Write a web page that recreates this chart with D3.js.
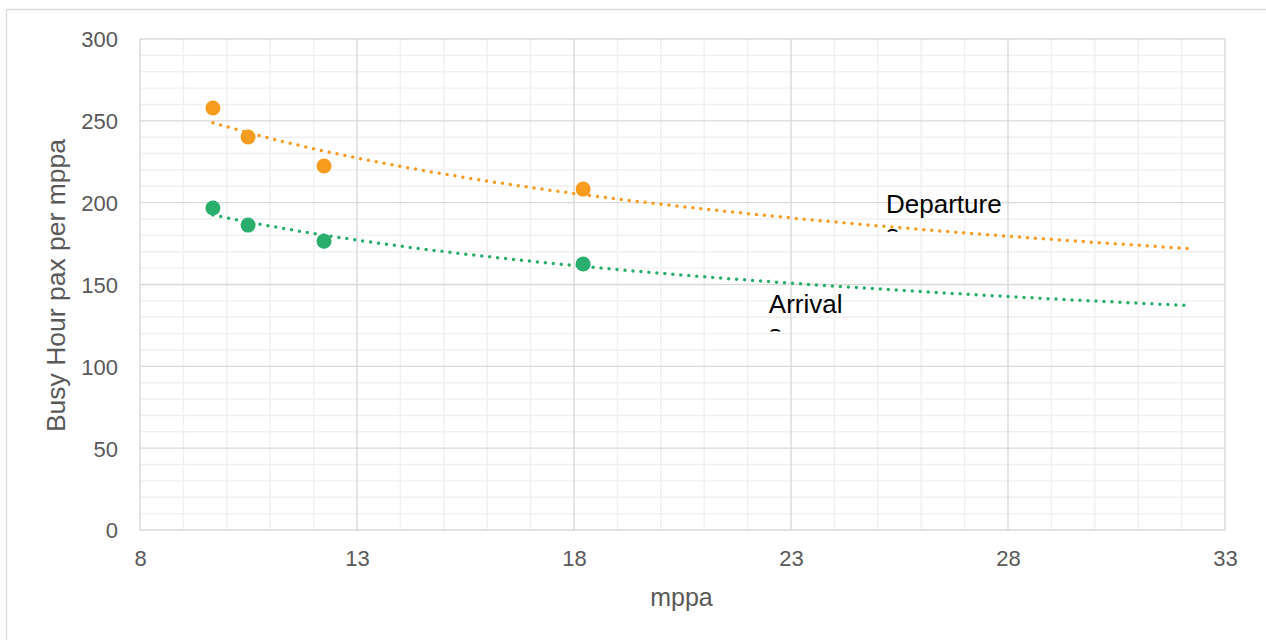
<!DOCTYPE html>
<html>
<head>
<meta charset="utf-8">
<script src="https://cdn.jsdelivr.net/npm/d3@7"></script>
<style>
  body { margin: 0; background: #fff; }
  text { font-family: "Liberation Sans", Arial, sans-serif; }
</style>
</head>
<body>
<div id="chart"></div>
<script>
// data
const mppa = [9.68, 10.49, 12.24, 18.21];
const departure = [257.8, 240.1, 222.4, 208.3];
const arrival = [196.7, 186.3, 176.5, 162.5];
const xTicks = [8, 13, 18, 23, 28, 33];
const yTicks = [0, 50, 100, 150, 200, 250, 300];
const seriesNames = ["Departure", "Arrival"];
const labelX = [25.19, 22.49];
const labelY = [193.6, 132.6];
const trendEnd = 32.2;

const colors = ["#F89C1F", "#29AE6E"];

const margin = {top: 39, right: 41, bottom: 110, left: 140},
    width = 1266 - margin.left - margin.right,
    height = 640 - margin.top - margin.bottom;

const root = d3.select("#chart")
    .append("svg")
    .attr("width", 1266)
    .attr("height", 640);

// chart outer border
root.append("rect")
    .attr("x", 6.5).attr("y", 9.5)
    .attr("width", 1300).attr("height", 700)
    .attr("fill", "none")
    .attr("stroke", "#d9d9d9")
    .attr("stroke-width", 1.3);

const svg = root.append("g")
    .attr("transform", `translate(${margin.left},${margin.top})`);

const x = d3.scaleLinear().domain([8, 33]).range([0, width]);
const y = d3.scaleLinear().domain([0, 300]).range([height, 0]);

// minor gridlines
svg.append("g")
    .selectAll("line")
    .data(d3.range(9, 33, 1).filter(v => (v - 8) % 5 !== 0))
    .join("line")
    .attr("x1", d => x(d)).attr("x2", d => x(d))
    .attr("y1", 0).attr("y2", height)
    .attr("stroke", "#f0f0f0").attr("stroke-width", 1.4);
svg.append("g")
    .selectAll("line")
    .data(d3.range(10, 300, 10).filter(v => v % 50 !== 0))
    .join("line")
    .attr("x1", 0).attr("x2", width)
    .attr("y1", d => y(d)).attr("y2", d => y(d))
    .attr("stroke", "#f0f0f0").attr("stroke-width", 1.4);

// major gridlines
svg.append("g")
    .selectAll("line")
    .data(xTicks)
    .join("line")
    .attr("x1", d => x(d)).attr("x2", d => x(d))
    .attr("y1", 0).attr("y2", height)
    .attr("stroke", "#d9d9d9").attr("stroke-width", 1.4);
svg.append("g")
    .selectAll("line")
    .data(yTicks)
    .join("line")
    .attr("x1", 0).attr("x2", width)
    .attr("y1", d => y(d)).attr("y2", d => y(d))
    .attr("stroke", "#d9d9d9").attr("stroke-width", 1.4);

// axes (labels only)
const xAxis = svg.append("g")
    .attr("transform", `translate(0,${height})`)
    .call(d3.axisBottom(x).tickValues(xTicks).tickSize(0).tickPadding(20));
const yAxis = svg.append("g")
    .call(d3.axisLeft(y).tickValues(yTicks).tickSize(0).tickPadding(22));
[xAxis, yAxis].forEach(a => {
    a.select(".domain").remove();
    a.selectAll("text")
        .attr("font-family", "Liberation Sans, Arial, sans-serif")
        .attr("font-size", 22)
        .attr("fill", "#595959");
});
yAxis.selectAll("text").attr("dy", "0.36em");
xAxis.selectAll("text").attr("dy", "0.72em");

// axis titles
svg.append("text")
    .attr("x", width / 2 - 1)
    .attr("y", height + 76)
    .attr("text-anchor", "middle")
    .attr("font-size", 25)
    .attr("fill", "#595959")
    .text("mppa");
svg.append("text")
    .attr("transform", `translate(${-75},${height / 2 + 1}) rotate(-90)`)
    .attr("text-anchor", "middle")
    .attr("font-size", 26.5)
    .attr("fill", "#595959")
    .text("Busy Hour pax per mppa");

// power trendlines fitted to each series
function powerFit(xs, ys) {
    const lx = xs.map(Math.log), ly = ys.map(Math.log);
    const mx = d3.mean(lx), my = d3.mean(ly);
    const b = d3.sum(lx, (v, i) => (v - mx) * (ly[i] - my)) / d3.sum(lx, v => (v - mx) ** 2);
    const a = Math.exp(my - b * mx);
    return v => a * Math.pow(v, b);
}

[departure, arrival].forEach((vals, i) => {
    const f = powerFit(mppa, vals);
    const xs = d3.range(mppa[0], trendEnd, 0.1).concat([trendEnd]);
    svg.append("path")
        .datum(xs)
        .attr("fill", "none")
        .attr("stroke", colors[i])
        .attr("stroke-width", 3.5)
        .attr("stroke-linecap", "round")
        .attr("stroke-dasharray", "0 8")
        .attr("d", d3.line().x(d => x(d)).y(d => y(f(d))));
});

// points
[departure, arrival].forEach((vals, i) => {
    svg.append("g")
        .selectAll("circle")
        .data(vals)
        .join("circle")
        .attr("cx", (d, j) => x(mppa[j]))
        .attr("cy", d => y(d))
        .attr("r", 7.5)
        .attr("fill", colors[i]);
});

// series labels (second line clipped by label box)
seriesNames.forEach((name, i) => {
    const lx = x(labelX[i]), ly = y(labelY[i]);
    svg.append("clipPath")
        .attr("id", "clip" + i)
        .append("rect")
        .attr("x", lx - 5).attr("y", ly - 30)
        .attr("width", 160).attr("height", 48.5);
    const t = svg.append("text")
        .attr("clip-path", `url(#clip${i})`)
        .attr("font-size", 26)
        .attr("fill", "#000");
    t.append("tspan").attr("x", lx).attr("y", ly).text(name);
    t.append("tspan").attr("x", lx).attr("y", ly + 30).text("s");
});
</script>
</body>
</html>
